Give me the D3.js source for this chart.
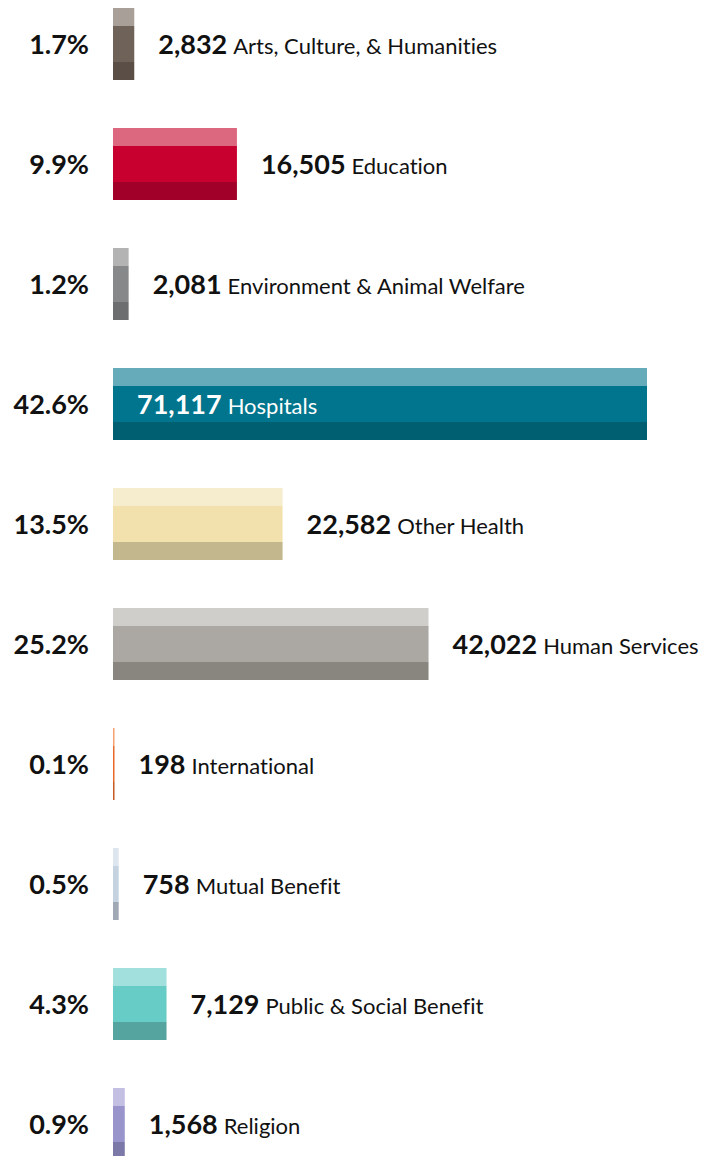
<!DOCTYPE html>
<html>
<head>
<meta charset="UTF-8">
<style>
body, html {
    margin: 0;
    padding: 0;
    background: #ffffff;
    overflow: hidden;
}
text {
    font-family: Lato, "Open Sans", sans-serif;
    font-variant-ligatures: none;
}
</style>
</head>
<body>
<svg id="chart"></svg>
<script src="https://d3js.org/d3.v7.min.js"></script>
<script>
// data
let categories = ["Arts, Culture, & Humanities", "Education", "Environment & Animal Welfare",
    "Hospitals", "Other Health", "Human Services", "International", "Mutual Benefit",
    "Public & Social Benefit", "Religion"];
let counts = [2832, 16505, 2081, 71117, 22582, 42022, 198, 758, 7129, 1568];
let percents = ["1.7%", "9.9%", "1.2%", "42.6%", "13.5%", "25.2%", "0.1%", "0.5%", "4.3%", "0.9%"];

// three shades per bar: top, middle, bottom
let palette = [
    ["#a89f98", "#6e6259", "#5a4e46"],
    ["#dc6880", "#c8002f", "#a10028"],
    ["#b3b3b3", "#87888a", "#6d6e70"],
    ["#65abb9", "#00758d", "#005f70"],
    ["#f6ecce", "#f3e1ad", "#c3b78d"],
    ["#d0cecb", "#aba7a3", "#89857f"],
    ["#f5a273", "#e86a2a", "#c45a22"],
    ["#dde5ee", "#c5d3e1", "#a0a8b4"],
    ["#a2e0dd", "#67cbc6", "#55a4a0"],
    ["#c2bfe3", "#9994cc", "#7c78a8"]
];

let width = 703, height = 1156;
let barLeft = 113, rowH = 120, barH = 72, topPad = 8;

let svg = d3.select("#chart")
    .attr("width", width)
    .attr("height", height);

let x = d3.scaleLinear()
    .domain([0, d3.max(counts)])
    .range([0, 534]);

// step of 120px per row, 72px bars, first bar at y=8
let y = d3.scaleBand()
    .domain(categories)
    .range([topPad, topPad + rowH * categories.length])
    .paddingInner((rowH - barH) / rowH)
    .paddingOuter((rowH - barH) / rowH / 2)
    .align(0);

let rows = categories.map((c, i) => ({ name: c, count: counts[i], pct: percents[i], colors: palette[i] }));

let g = svg.selectAll(".row")
    .data(rows)
    .enter()
    .append("g")
    .attr("class", "row")
    .attr("transform", d => `translate(0, ${y(d.name)})`);

let bh = y.bandwidth();
let bands = [[0, 0.25], [0.25, 0.75], [0.75, 1]];

bands.forEach((b, k) => {
    g.append("rect")
        .attr("x", barLeft)
        .attr("y", b[0] * bh)
        .attr("width", d => Math.max(1.5, x(d.count)))
        .attr("height", (b[1] - b[0]) * bh)
        .attr("fill", d => d.colors[k]);
});

g.append("text")
    .attr("x", 89)
    .attr("y", bh / 2)
    .attr("dy", "0.36em")
    .attr("text-anchor", "end")
    .attr("font-size", 27)
    .attr("font-weight", 700)
    .attr("fill", "#111")
    .text(d => d.pct);

let fmt = d3.format(",");
let inside = d => x(d.count) > 400;
let label = g.append("text")
    .attr("x", d => inside(d) ? barLeft + 24 : barLeft + Math.max(1.5, x(d.count)) + 24)
    .attr("y", bh / 2)
    .attr("font-size", 27)
    .attr("dy", "0.36em")
    .attr("fill", d => inside(d) ? "#ffffff" : "#111");

label.append("tspan")
    .attr("font-weight", 700)
    .text(d => fmt(d.count));

label.append("tspan")
    .attr("font-size", 22)
    .attr("dx", 6)
    .text(d => d.name);
</script>
</body>
</html>
